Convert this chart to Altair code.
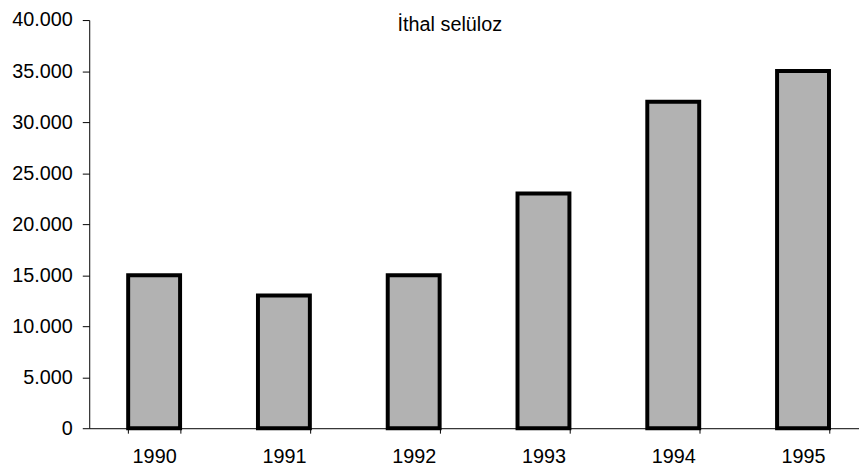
import altair as alt
import pandas as pd

years = ["1990", "1991", "1992", "1993", "1994", "1995"]
values = [15000, 13000, 15000, 23000, 32000, 35000]
y_ticks = [0, 5000, 10000, 15000, 20000, 25000, 30000, 35000, 40000]
title_text = "İthal selüloz"

FONT = "Liberation Sans"

df = pd.DataFrame({"year": years, "value": values})
title_df = pd.DataFrame({"t": [title_text]})

bars = alt.Chart(df).mark_bar(
    color="#b2b2b2", stroke="black", strokeWidth=4, strokeJoin="miter"
).encode(
    x=alt.X(
        "year:N",
        sort=years,
        scale=alt.Scale(range=[0, 786], paddingInner=0.6, paddingOuter=0.3),
        axis=alt.Axis(
            title=None, labelAngle=0, labelFont=FONT, labelFontSize=20,
            labelColor="black", tickBand="extent", tickSize=5, tickColor="black",
            domainColor="black", labelPadding=14, grid=False,
        ),
    ),
    y=alt.Y(
        "value:Q",
        scale=alt.Scale(domain=[0, 40000], nice=False),
        axis=alt.Axis(
            title=None, values=y_ticks,
            labelExpr="replace(format(datum.value, ','), ',', '.')",
            labelFont=FONT, labelFontSize=20, labelColor="black",
            tickSize=7, tickColor="black", domainColor="black",
            labelPadding=10, grid=False,
        ),
    ),
)

title = alt.Chart(title_df).mark_text(
    font=FONT, fontSize=20, color="black", align="center", baseline="middle"
).encode(
    x=alt.value(364), y=alt.value(5), text="t:N"
)

chart = alt.layer(bars, title).properties(
    width=777,
    height=412,
    autosize=alt.AutoSizeParams(type="none"),
    padding={"left": 82, "top": 10, "right": 0, "bottom": 40},
).configure_view(stroke=None)

chart.save("out.html", embed_options={"renderer": "svg", "actions": False})
